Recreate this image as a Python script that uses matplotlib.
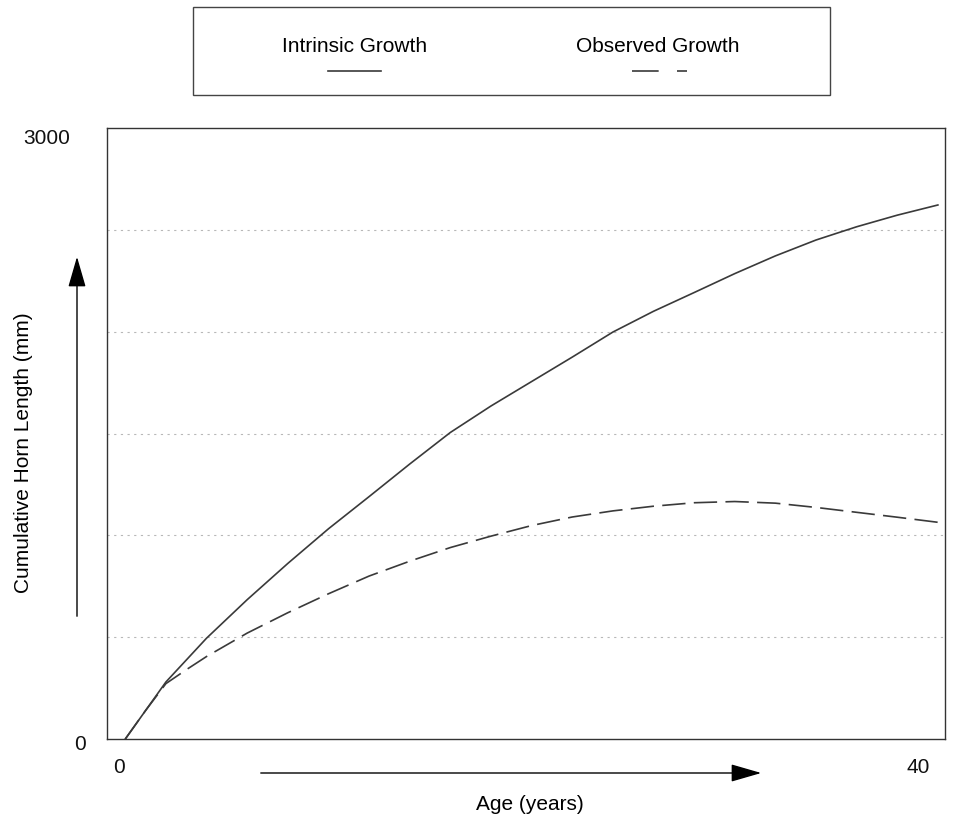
import matplotlib.pyplot as plt
import matplotlib.transforms as mtransforms
from matplotlib.patches import Rectangle, FancyArrowPatch
from matplotlib.lines import Line2D

plt.rcParams['font.family'] = ['Liberation Sans', 'DejaVu Sans']

# values (age in years, horn length in mm)
ages = [0, 1, 2, 4, 6, 8, 10, 12, 14, 16, 18, 20, 22, 24, 26, 28, 30, 32, 34, 36, 38, 40]
intrinsic = [0, 140, 280, 495, 684, 862, 1032, 1190, 1350, 1505, 1635, 1755, 1875,
             1998, 2100, 2192, 2285, 2372, 2450, 2515, 2572, 2622]
ages_obs = [0, 1, 2, 3, 4, 6, 8, 10, 12, 14, 16, 18, 20, 22, 24, 26, 28, 30, 32, 34, 36, 38, 40]
observed = [0, 140, 272, 340, 405, 520, 620, 713, 800, 873, 940, 996, 1048, 1090,
            1120, 1143, 1160, 1166, 1158, 1137, 1113, 1089, 1064]
grid_levels = [500, 1000, 1500, 2000, 2500]
legend_names = ['Intrinsic Growth', 'Observed Growth']

W, H = 954, 828
fig = plt.figure(figsize=(W / 100, H / 100), dpi=100)
ax = fig.add_axes([107 / W, 1 - 740 / H, (945 - 107) / W, (740 - 129) / H])

for g in grid_levels:
    ax.axhline(g, color='#b8b8b8', lw=0.8, ls=(0, (2, 4)), zorder=0)

ax.plot(ages, intrinsic, color='#3a3a3a', lw=1.2)
ax.plot(ages_obs, observed, color='#3a3a3a', lw=1.2, dashes=(14, 5))

ax.set_xlim(-0.9, 40.35)
ax.set_ylim(0, 3000)
for s in ax.spines.values():
    s.set_color('#333333')
    s.set_linewidth(1.0)

ax.set_xticks([0, 40])
ax.set_xticklabels(['0', '40'])
ax.set_yticks([0, 3000])
ax.set_yticklabels(['0', '3000'])
ax.tick_params(length=0, labelsize=15, colors='#111111')
ax.tick_params(axis='x', pad=13)
ax.tick_params(axis='y', pad=15)

# nudge tick labels to where they sit in the picture
def shift(label, dx, dy):
    label.set_transform(label.get_transform() +
                        mtransforms.ScaledTranslation(dx / 100, dy / 100, fig.dpi_scale_trans))

xl = ax.get_xticklabels()
shift(xl[0], -6, 0)
shift(xl[1], -20, 0)
yl = ax.get_yticklabels()
shift(yl[0], 0, -3)
shift(yl[1], -16, -8)

ax.set_xlabel('Age (years)', fontsize=15)
ax.set_ylabel('Cumulative Horn Length (mm)', fontsize=15)
ax.xaxis.set_label_coords((530 - 107) / 838, (740 - 795) / 611)
ax.yaxis.set_label_coords((33 - 107) / 838, (740 - 453) / 611)

# legend box drawn at the top
fig.patches.append(Rectangle((193 / W, 1 - 96 / H), (830 - 193) / W, (96 - 8) / H,
                             transform=fig.transFigure, fill=False,
                             edgecolor='#444444', lw=1.0))
fig.text(355 / W, 1 - 46 / H, legend_names[0], fontsize=15, ha='center', va='center')
fig.text(658 / W, 1 - 46 / H, legend_names[1], fontsize=15, ha='center', va='center')
fig.add_artist(Line2D([328 / W, 381 / W], [1 - 72 / H, 1 - 72 / H],
                      transform=fig.transFigure, color='#3a3a3a', lw=1.2))
fig.add_artist(Line2D([632 / W, 687 / W], [1 - 72 / H, 1 - 72 / H],
                      transform=fig.transFigure, color='#3a3a3a', lw=1.2,
                      dashes=(16, 11)))

# direction arrows beside the axes
arrow_v = FancyArrowPatch((77, H - 620), (77, H - 255), transform=None,
                          arrowstyle='-|>,head_length=19,head_width=5.5',
                          mutation_scale=1, color='black', lw=1.0)
arrow_h = FancyArrowPatch((258, H - 774), (764, H - 774), transform=None,
                          arrowstyle='-|>,head_length=19,head_width=5.5',
                          mutation_scale=1, color='black', lw=1.0)
fig.add_artist(arrow_v)
fig.add_artist(arrow_h)

fig.savefig('out.png', dpi=100)
